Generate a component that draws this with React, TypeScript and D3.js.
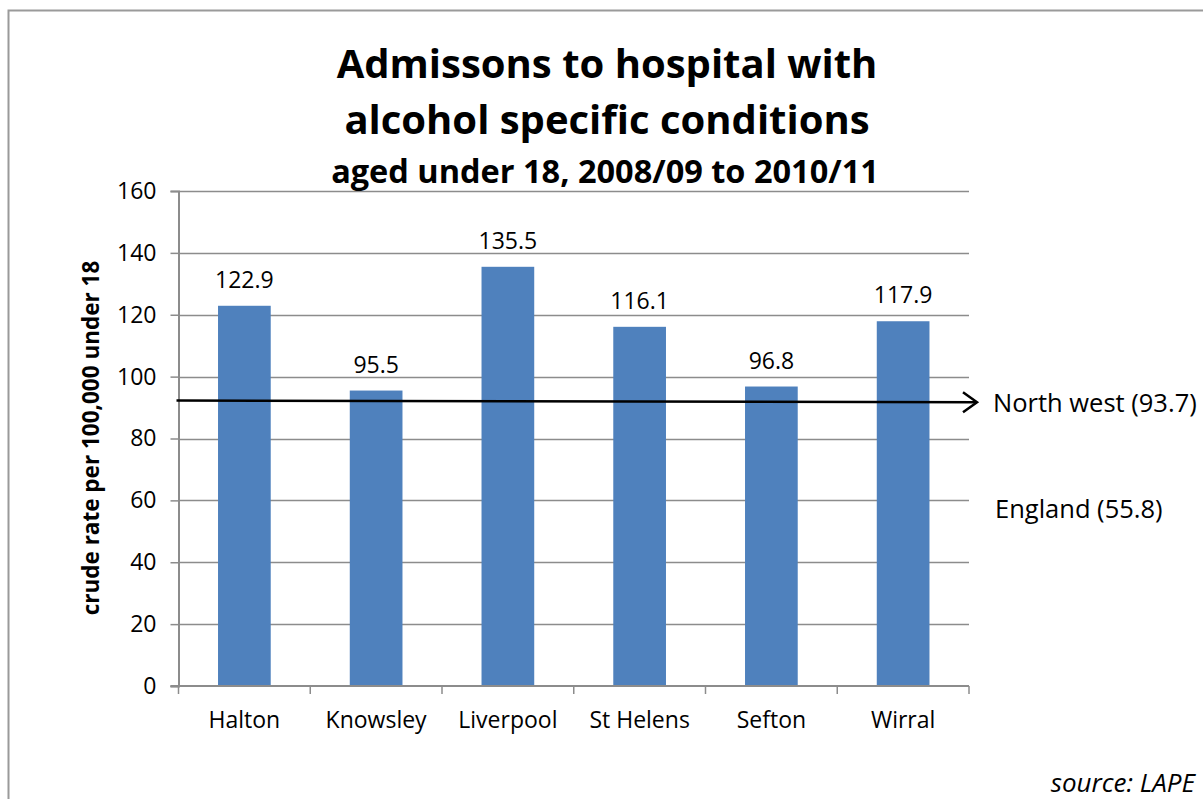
import React, { useEffect, useRef } from 'react';
import * as d3 from 'd3';

const areas = ['Halton', 'Knowsley', 'Liverpool', 'St Helens', 'Sefton', 'Wirral'];
const rates = [122.9, 95.5, 135.5, 116.1, 96.8, 117.9];
const yTicks = [0, 20, 40, 60, 80, 100, 120, 140, 160];
// hand-drawn North west marker: level at left end, level at right end
const northWestLine = [92.3, 91.7];
const northWestLabel = 'North west (93.7)';
const englandLabel = 'England (55.8)';
const englandLevel = 58;
const titleLines = ['Admissons to hospital with', 'alcohol specific conditions'];
const subtitle = 'aged under 18, 2008/09 to 2010/11';

const FONT = '"Open Sans", "Noto Sans", sans-serif';

const App = () => {
  const ref = useRef<SVGSVGElement>(null);

  useEffect(() => {
    const svg = d3.select(ref.current);
    svg.selectAll('*').remove();

    const left = 178.5, right = 969, top = 191, bottom = 686;

    svg.append('rect')
      .attr('x', 8.5).attr('y', 10.5)
      .attr('width', 1400).attr('height', 1000)
      .attr('fill', 'white').attr('stroke', '#9a9a9a').attr('stroke-width', 2);

    const x = d3.scaleBand<string>()
      .domain(areas)
      .range([left, right])
      .paddingInner(0.6)
      .paddingOuter(0.3);

    const y = d3.scaleLinear().domain([0, 160]).range([bottom, top]);

    const g = svg.append('g');

    // gridlines
    g.selectAll('.grid')
      .data(yTicks.filter(t => t > 0))
      .enter()
      .append('line')
      .attr('x1', left).attr('x2', right)
      .attr('y1', d => Math.round(y(d)) + 0.5)
      .attr('y2', d => Math.round(y(d)) + 0.5)
      .attr('stroke', '#8c8c8c').attr('stroke-width', 1.5);

    // y axis
    const yAxis = g.append('g')
      .attr('transform', `translate(${left},0)`)
      .call(d3.axisLeft(y).tickValues(yTicks).tickSize(8).tickPadding(14));
    yAxis.select('.domain').attr('stroke', '#8c8c8c').attr('stroke-width', 2);
    yAxis.selectAll('.tick line').attr('stroke', '#8c8c8c').attr('stroke-width', 1.5);
    yAxis.selectAll('.tick text')
      .attr('font-family', FONT).attr('font-size', 23).attr('fill', '#000');

    // bars
    g.selectAll('.bar')
      .data(rates)
      .enter()
      .append('rect')
      .attr('x', (_, i) => x(areas[i]) ?? 0)
      .attr('y', d => y(d))
      .attr('width', x.bandwidth())
      .attr('height', d => bottom - y(d))
      .attr('fill', '#4f81bd');

    // x axis
    const step = x.step();
    const xAxis = g.append('g').attr('transform', `translate(0,${bottom})`);
    xAxis.append('line')
      .attr('x1', left - 8).attr('x2', right)
      .attr('y1', 0).attr('y2', 0)
      .attr('stroke', '#8c8c8c').attr('stroke-width', 2);
    xAxis.selectAll('.xt')
      .data(d3.range(areas.length + 1))
      .enter()
      .append('line')
      .attr('x1', i => left + i * step).attr('x2', i => left + i * step)
      .attr('y1', 0).attr('y2', 8)
      .attr('stroke', '#8c8c8c').attr('stroke-width', 1.5);
    xAxis.selectAll('.xl')
      .data(areas)
      .enter()
      .append('text')
      .attr('x', d => (x(d) ?? 0) + x.bandwidth() / 2)
      .attr('y', 42)
      .attr('text-anchor', 'middle')
      .attr('font-family', FONT).attr('font-size', 23)
      .text(d => d);

    // data labels
    g.selectAll('.lab')
      .data(rates)
      .enter()
      .append('text')
      .attr('x', (_, i) => (x(areas[i]) ?? 0) + x.bandwidth() / 2)
      .attr('y', d => y(d) - 18)
      .attr('text-anchor', 'middle')
      .attr('font-family', FONT).attr('font-size', 23)
      .text(d => d.toFixed(1));

    // North west arrow
    const x1 = left - 2, x2 = right + 8;
    const ya = y(northWestLine[0]), yb = y(northWestLine[1]);
    g.append('line')
      .attr('x1', x1).attr('y1', ya).attr('x2', x2).attr('y2', yb)
      .attr('stroke', '#000').attr('stroke-width', 2.5);
    g.append('path')
      .attr('d', `M${x2 - 14},${yb - 10} L${x2},${yb} L${x2 - 14},${yb + 10}`)
      .attr('fill', 'none').attr('stroke', '#000').attr('stroke-width', 2.5);
    g.append('text')
      .attr('x', 993).attr('y', yb + 10)
      .attr('font-family', FONT).attr('font-size', 25.5)
      .text(northWestLabel);
    g.append('text')
      .attr('x', 995).attr('y', y(englandLevel) + 11)
      .attr('font-family', FONT).attr('font-size', 25.5)
      .text(englandLabel);

    // axis title
    g.append('text')
      .attr('transform', `translate(99,438) rotate(-90)`)
      .attr('text-anchor', 'middle')
      .attr('font-family', FONT).attr('font-size', 22.5).attr('font-weight', 'bold')
      .text('crude rate per 100,000 under 18');

    // titles
    titleLines.forEach((t, i) => {
      g.append('text')
        .attr('x', 607).attr('y', 78 + i * 56)
        .attr('text-anchor', 'middle')
        .attr('font-family', FONT).attr('font-size', 40).attr('font-weight', 'bold')
        .text(t);
    });
    g.append('text')
      .attr('x', 605).attr('y', 183)
      .attr('text-anchor', 'middle')
      .attr('font-family', FONT).attr('font-size', 32.5).attr('font-weight', 'bold')
      .text(subtitle);

    g.append('text')
      .attr('x', 1195).attr('y', 792)
      .attr('text-anchor', 'end')
      .attr('font-family', FONT).attr('font-size', 26).attr('font-style', 'italic')
      .text('source: LAPE');
  }, []);

  return (
    <svg
      ref={ref}
      width={1203}
      height={799}
      style={{ position: 'absolute', left: 0, top: 0, display: 'block', background: '#fff' }}
    />
  );
};

export default App;
